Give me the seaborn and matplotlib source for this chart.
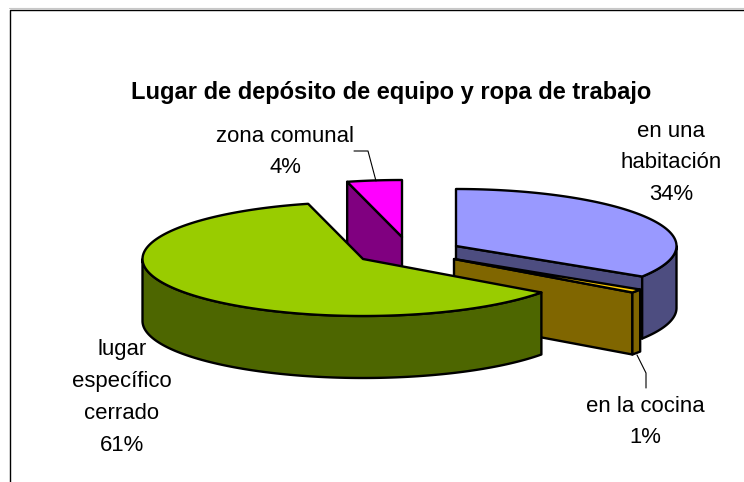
import numpy as np
import matplotlib
matplotlib.use("Agg")
import matplotlib.pyplot as plt
from matplotlib.patches import Polygon
import seaborn as sns

title = "Lugar de depósito de equipo y ropa de trabajo"
categories = ["en una\nhabitación", "en la cocina", "lugar\nespecífico\ncerrado", "zona comunal"]
values = [34, 1, 61, 4]
top_colors = ["#9999FF", "#FFCC00", "#99CC00", "#FF00FF"]
wall_colors = ["#4D4D80", "#806600", "#4D6600", "#800080"]
apex_px = [(456, 246), (454, 259), (363, 259), (402, 237)]
label_px = [(671, 163), (645, 422), (122, 397.5), (285, 152)]
draw_order = [3, 0, 1, 2]

RX, RY, DEPTH = 220.5, 57, 62
LW = 1.7

sns.set_theme(style="white")
plt.rcParams["font.family"] = ["Liberation Sans", "DejaVu Sans"]
palette = sns.color_palette(top_colors)
walls = sns.color_palette(wall_colors)

fig = plt.figure(figsize=(7.44, 4.82), dpi=100)
ax = fig.add_axes([0, 0, 1, 1])
ax.set_xlim(0, 744)
ax.set_ylim(482, 0)
ax.axis("off")

ax.plot([9, 744], [8, 8], color="#C8C8C8", lw=0.8)
ax.plot([10, 10, 744], [482, 9.5, 9.5], color="black", lw=1.0)

fractions = np.array(values) / sum(values)
ends = np.cumsum(fractions) * 2 * np.pi
starts = ends - fractions * 2 * np.pi


def rim(apex, a0, a1):
    t = np.linspace(a0, a1, max(2, int((a1 - a0) * 60)))
    return np.column_stack([apex[0] + RX * np.sin(t), apex[1] - RY * np.cos(t)])


def poly(pts, color, z):
    ax.add_patch(Polygon(pts, closed=True, facecolor=color, edgecolor="black",
                         lw=LW, joinstyle="round", zorder=z))


z = 2
for i in draw_order:
    apex = np.array(apex_px[i], float)
    a0, a1 = starts[i], ends[i]
    down = np.array([0, DEPTH])
    # radial walls facing the viewer
    for a, visible in ((a0, a0 > np.pi), (a1, a1 < np.pi)):
        if visible:
            p = rim(apex, a, a)[0]
            poly([apex, p, p + down, apex + down], walls[i], z)
            z += 1
    # outer wall: the part of the rim on the front half
    f0, f1 = max(a0, np.pi / 2), min(a1, 3 * np.pi / 2)
    if f1 > f0:
        r = rim(apex, f0, f1)
        poly(np.vstack([r, (r + down)[::-1]]), walls[i], z)
        z += 1
    poly(np.vstack([apex, rim(apex, a0, a1)]), palette[i], z)
    z += 1

ax.plot([354, 368, 376], [151, 151, 181], color="black", lw=0.8, zorder=z)
ax.plot([637, 646, 646], [355, 373, 388], color="black", lw=0.8, zorder=z)

ax.text(391, 92, title, ha="center", va="center", fontsize=17, fontweight="bold", color="black")
for name, v, (x, y) in zip(categories, values, label_px):
    ax.text(x, y, f"{name}\n{v}%", ha="center", va="center", fontsize=15.9,
            linespacing=1.68, color="black")

fig.savefig("out.png", dpi=100)
